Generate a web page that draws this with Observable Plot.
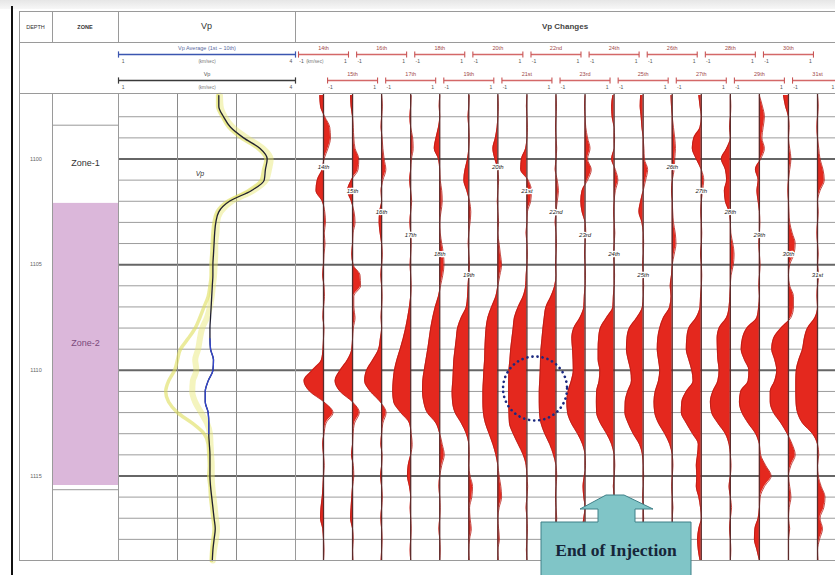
<!DOCTYPE html>
<html><head><meta charset="utf-8">
<script src="https://cdn.jsdelivr.net/npm/d3@7"></script>
<script src="https://cdn.jsdelivr.net/npm/@observablehq/plot@0.6"></script>
<style>
body{margin:0;background:#fff;font-family:"Liberation Sans",Arial,sans-serif;}
#wrap{position:relative;width:835px;height:575px;overflow:hidden;background:#fff;}
.abs{position:absolute;}
.hl{position:absolute;height:1px;background:#9a9a9a;}
.vl{position:absolute;width:1px;background:#9a9a9a;}
.ht{position:absolute;text-align:center;color:#333;}
svg{overflow:visible;}
</style></head><body><div id="wrap"></div>
<script>
// ---------- DATA ----------
const depth = [1097,1097.5,1098,1098.5,1099,1099.5,1100,1100.5,1101,1101.5,1102,1102.5,1103,1103.5,1104,1104.5,1105,1105.5,1106,1106.5,1107,1107.5,1108,1108.5,1109,1109.5,1110,1110.5,1111,1111.5,1112,1112.5,1113,1113.5,1114,1114.5,1115,1115.5,1116,1116.5,1117,1117.5,1118,1118.5,1119];
const vpAverage = [2.70,2.70,2.78,2.90,3.12,3.40,3.52,3.49,3.47,3.25,2.88,2.70,2.65,2.63,2.62,2.61,2.60,2.60,2.59,2.58,2.57,2.56,2.55,2.55,2.56,2.61,2.60,2.52,2.47,2.47,2.52,2.53,2.53,2.54,2.55,2.55,2.55,2.56,2.58,2.60,2.62,2.64,2.62,2.60,2.59];
const vpSurveyA = [2.72,2.73,2.80,2.94,3.18,3.45,3.58,3.55,3.50,3.28,2.92,2.73,2.67,2.66,2.64,2.64,2.63,2.62,2.60,2.58,2.55,2.50,2.42,2.38,2.35,2.30,2.32,2.26,2.25,2.30,2.40,2.50,2.55,2.56,2.57,2.58,2.58,2.59,2.61,2.63,2.65,2.67,2.65,2.62,2.60];
const vpSurveyB = [2.68,2.68,2.76,2.87,3.08,3.36,3.50,3.46,3.42,3.20,2.85,2.67,2.62,2.60,2.59,2.58,2.57,2.57,2.55,2.52,2.45,2.38,2.30,2.18,2.05,2.00,1.95,1.85,1.80,1.85,2.00,2.25,2.45,2.52,2.53,2.54,2.53,2.55,2.56,2.58,2.60,2.62,2.60,2.58,2.57];

const trackNames = ["14th","15th","16th","17th","18th","19th","20th","21st","22nd","23rd","24th","25th","26th","27th","28th","29th","30th","31st"];
const vc14 = [-0.15,-0.12,0.05,0.25,0.28,0.18,0.02,-0.05,-0.25,-0.3,-0.05,0.05,0.08,0.03,0.06,0.02,0,-0.03,0.02,0.04,0,-0.02,0.02,0,-0.02,-0.08,-0.45,-0.78,-0.55,0.02,0.38,0.1,0.02,-0.03,0,0.03,0,-0.02,-0.05,-0.1,-0.12,-0.03,0,0.02,0];
const vc15 = [-0.08,-0.06,0,0.03,0.05,0.1,0.25,0.22,-0.05,-0.2,-0.05,0.06,0.1,0.02,0,-0.03,0.02,0.3,0.32,0.05,0.05,0.1,0.03,0,-0.03,-0.2,-0.5,-0.7,-0.5,0,0.27,0.08,0.02,0,-0.04,0.03,0.05,0,-0.03,-0.06,-0.08,0,0.03,0,0.02];
const vc16 = [0,0.03,0,-0.02,0.02,0.05,0.1,0.17,0.05,-0.02,0,-0.08,-0.1,-0.06,0,0.03,0,-0.03,0,0.02,0,-0.02,0,-0.05,-0.12,-0.35,-0.6,-0.68,-0.45,-0.05,0.18,0.05,0,-0.03,0.02,0,-0.04,0,0.03,0,-0.03,0,0.02,0,-0.02];
const vc17 = [0.02,0,-0.03,0,0.08,0.1,0.03,0,-0.04,0,0.04,0,-0.03,0,0.02,0,-0.02,0,0.02,0,-0.05,-0.12,-0.2,-0.3,-0.42,-0.55,-0.65,-0.7,-0.72,-0.68,-0.4,-0.05,0.02,0.06,0,-0.1,-0.13,-0.05,0,-0.02,0,0.02,0,-0.02,0];
const vc18 = [0,-0.02,0,-0.05,-0.15,-0.22,-0.05,0,0.02,0.08,0.1,0.05,0,0.02,0.08,0.15,0.17,0.12,0.03,-0.05,-0.18,-0.28,-0.36,-0.42,-0.48,-0.55,-0.62,-0.68,-0.69,-0.64,-0.5,-0.15,0,0.1,0.18,0.08,0,-0.03,0,0.02,0,-0.03,0,0.02,0];
const vc19 = [0.02,0,-0.03,0,0.02,0,-0.05,-0.15,-0.2,-0.08,0.03,0.08,0.05,0,-0.02,0,0.03,0,-0.03,-0.05,-0.1,-0.3,-0.45,-0.5,-0.55,-0.6,-0.62,-0.64,-0.67,-0.65,-0.55,-0.3,-0.1,0,0.02,0,0.05,0.15,0.12,0.03,0.05,0.1,0.03,0,0.02];
const vc20 = [0,0.02,0,-0.03,-0.1,-0.2,-0.12,0,0.03,0,-0.02,0,0.03,0,0.05,0.1,0.15,0.08,0,-0.08,-0.25,-0.4,-0.47,-0.5,-0.52,-0.53,-0.56,-0.58,-0.6,-0.6,-0.58,-0.5,-0.35,-0.2,-0.08,0,0.05,0.12,0.15,0.05,0,0.03,0.06,0,0.02];
const vc21 = [0,-0.02,0,0.02,0,-0.05,-0.22,-0.25,0.05,0.18,0.15,0.02,0,-0.03,0,0.02,0,-0.03,-0.05,-0.15,-0.35,-0.5,-0.55,-0.6,-0.65,-0.68,-0.72,-0.73,-0.73,-0.73,-0.72,-0.7,-0.55,-0.35,-0.15,-0.03,0,0.03,0,-0.03,0,0.02,0,-0.02,0];
const vc22 = [0,0.02,0,-0.02,0,0.03,0,-0.03,0.05,0.1,0.05,0,-0.03,0,0.02,0,-0.02,0,-0.05,-0.2,-0.4,-0.47,-0.52,-0.56,-0.6,-0.62,-0.63,-0.65,-0.67,-0.67,-0.66,-0.6,-0.45,-0.25,-0.1,0,0.03,0,-0.02,0,0.03,0,-0.02,0,0];
const vc23 = [0,-0.02,0,0.03,0.1,0.2,0.1,0.25,0.1,-0.12,-0.17,-0.12,0,0.03,0,-0.02,0,0.02,0,-0.03,-0.05,-0.2,-0.45,-0.53,-0.5,-0.48,-0.47,-0.55,-0.68,-0.73,-0.7,-0.55,-0.3,-0.1,0,0.02,-0.03,-0.08,-0.05,0,-0.05,-0.1,-0.05,0,0];
const vc24 = [-0.05,-0.1,-0.08,0,0.02,0,-0.1,0.05,0.15,0.05,0,-0.02,0,0.03,0,-0.02,0,0.02,0,-0.03,-0.05,-0.3,-0.55,-0.62,-0.64,-0.64,-0.57,-0.6,-0.7,-0.71,-0.7,-0.55,-0.3,-0.1,0,0.03,0,-0.03,0,0.02,0,-0.02,0,0,0];
const vc25 = [-0.1,-0.12,-0.08,-0.05,0,0.03,0.05,0.18,0.1,0,-0.1,-0.17,-0.05,0,0.02,0,-0.02,0,0.02,0,-0.03,-0.25,-0.55,-0.65,-0.67,-0.6,-0.5,-0.47,-0.62,-0.72,-0.73,-0.6,-0.4,-0.15,-0.03,0,0.02,0,-0.02,0,0.02,0,0,-0.02,0];
const vc26 = [-0.05,-0.03,0,0.05,0.1,0.13,0.1,0.08,0,-0.03,0,0.02,0.05,0.12,0.15,0.08,0,-0.03,-0.08,-0.05,-0.1,-0.35,-0.5,-0.58,-0.6,-0.55,-0.5,-0.55,-0.68,-0.73,-0.7,-0.55,-0.3,-0.1,0,0.03,0,-0.02,0,0.03,0,0,0.02,0,0];
const vc27 = [-0.1,-0.05,0,-0.05,-0.3,-0.36,-0.2,0,0.1,0.05,0,-0.02,0,0.02,0,-0.03,0,0.02,0,-0.03,-0.05,-0.2,-0.5,-0.58,-0.6,-0.5,-0.38,-0.33,-0.6,-0.78,-0.8,-0.6,-0.35,-0.12,-0.15,-0.2,-0.18,-0.2,-0.1,-0.03,0,-0.1,-0.15,-0.12,-0.05];
const vc28 = [0,0.02,0,-0.03,0,-0.15,-0.36,-0.2,-0.15,-0.24,-0.2,-0.05,0,0.02,0.1,0.15,0.12,0.03,0,-0.02,-0.05,-0.15,-0.45,-0.53,-0.52,-0.5,-0.45,-0.5,-0.7,-0.8,-0.75,-0.5,-0.2,-0.05,0,0.03,0,-0.05,0,0.05,0,-0.03,0,0.02,0];
const vc29 = [0,0.12,0.2,0.15,0.1,0.2,0.05,-0.16,-0.05,-0.1,-0.05,0,0.02,0,-0.02,0,0.03,0,-0.02,0,-0.03,-0.1,-0.5,-0.68,-0.73,-0.6,-0.42,-0.45,-0.75,-0.8,-0.7,-0.45,-0.15,0,0.05,0.25,0.47,0.2,0.03,0,-0.05,-0.18,-0.2,-0.1,0];
const vc30 = [-0.2,-0.12,0,0.03,0,0.05,0.1,0.05,0,-0.02,0,0.02,0.05,0.15,0.27,0.22,0.05,0,0.05,0.2,0.2,0.1,-0.3,-0.6,-0.67,-0.55,-0.47,-0.55,-0.73,-0.73,-0.6,-0.3,-0.05,0.15,0.27,0.1,0,0.05,0.1,0.03,0,0.05,0,0,0];
const vc31 = [0,0.03,0,-0.02,0,0.05,0.1,0.22,0.27,0.1,0,0.03,0,-0.02,0,0.03,0,0.05,0,-0.02,0,-0.1,-0.4,-0.53,-0.6,-0.75,-0.85,-0.87,-0.87,-0.86,-0.8,-0.6,-0.2,0,0.05,0,0.03,0.15,0.3,0.25,0.1,0.2,0.08,0,0.02];
const trackValues = [vc14,vc15,vc16,vc17,vc18,vc19,vc20,vc21,vc22,vc23,vc24,vc25,vc26,vc27,vc28,vc29,vc30,vc31];

const gridDepths = [1098,1099,1101,1102,1103,1104,1106,1107,1108,1109,1111,1112,1113,1114,1116,1117,1118];
const majorDepths = [1100,1105,1110,1115];
const depthLabels = ["1100","1105","1110","1115"];
const zoneNames = ["Zone-1","Zone-2"];
const zoneTop = [1098.4,1102.1];
const zoneBase = [1102.1,1115.45];
const zoneFill = ["#ffffff","#dbb7da"];
const zoneLabelDepth = [1100.2,1108.7];
const trackLabelDepths = [1100.4,1101.5,1102.5,1103.6,1104.5,1105.5];
const vpRange = [1, 4];
const changeRange = [-1, 1];

// ---------- LAYOUT ----------
const wrap = document.getElementById("wrap");
function div(cls, css, html) { const e = document.createElement("div"); e.className = cls; e.style.cssText = css; if (html) e.innerHTML = html; wrap.appendChild(e); return e; }
function place(svg, left, top) { const d = div("abs", `left:${left}px;top:${top}px;`); d.appendChild(svg); }

div("abs", "left:0;top:0;width:835px;height:9px;background:linear-gradient(#e6e6e6,#f7f7f7);");
div("abs", "left:11px;top:6px;width:2px;height:569px;background:#111;");

const top0 = 93, H = 467, yDom = [1096.9, 1119];
const font = "Liberation Sans, Arial, sans-serif";
const baseOpts = (w) => ({width: w, height: H, marginTop: 0, marginBottom: 0, marginLeft: 0, marginRight: 0,
  y: {domain: yDom, reverse: true, axis: null}, style: {background: "transparent", fontFamily: font, overflow: "visible"}});
const gridMarks = () => [
  Plot.ruleY(gridDepths, {stroke: "#9c9c9c", strokeWidth: 1}),
  Plot.ruleY(majorDepths, {stroke: "#666", strokeWidth: 2})
];

// Depth column
place(Plot.plot({...baseOpts(33), x: {domain: [0, 1], axis: null},
  marks: [Plot.text(majorDepths, {x: 0.5, y: d => d, text: (d, i) => depthLabels[i], fontSize: 5.5, fill: "#666"})]}), 19, top0);

// Zone column
place(Plot.plot({...baseOpts(66), x: {domain: [0, 1], axis: null}, color: {type: "identity"},
  marks: [
    Plot.rect(zoneNames, {x1: 0, x2: 1, y1: (d, i) => zoneTop[i], y2: (d, i) => zoneBase[i], fill: (d, i) => zoneFill[i]}),
    Plot.ruleY([zoneTop[0], zoneBase[1] + 0.2], {stroke: "#999", strokeWidth: 1}),
    Plot.text(zoneNames, {x: 0.5, y: (d, i) => zoneLabelDepth[i], text: d => d, fontSize: 9, fill: (d, i) => i ? "#7a4a7a" : "#333"})
  ]}), 52, top0);

// Vp track
const vpRows = depth.map((d, j) => ({depth: d, avg: vpAverage[j], a: vpSurveyA[j], b: vpSurveyB[j]}));
place(Plot.plot({...baseOpts(177), x: {domain: vpRange, axis: null},
  marks: [
    ...gridMarks(),
    Plot.ruleX([2, 3], {stroke: "#8a8a8a", strokeWidth: 1}),
    Plot.line(vpRows, {x: "a", y: "depth", stroke: "#e6e66e", strokeWidth: 6, strokeOpacity: 0.45, curve: "monotone-y"}),
    Plot.line(vpRows, {x: "b", y: "depth", stroke: "#dede5a", strokeWidth: 3.5, strokeOpacity: 0.6, curve: "monotone-y"}),
    Plot.line(vpRows, {x: "avg", y: "depth", stroke: "#1f1f33", strokeWidth: 1.3, curve: "monotone-y"}),
    Plot.line(vpRows.filter(r => r.depth >= 1108.5 && r.depth <= 1113), {x: "avg", y: "depth", stroke: "#3347d0", strokeWidth: 1.3, curve: "monotone-y"}),
    Plot.text(["Vp"], {x: 2.38, y: 1100.7, text: d => d, fontSize: 7, fontStyle: "italic", fill: "#333"})
  ]}), 118, top0);

// Vp Changes tracks
const base = i => 1.12 + 1.1624 * i;
const changeRows = [];
trackValues.forEach((vals, i) => vals.forEach((v, j) => changeRows.push({track: trackNames[i], i, depth: depth[j], v})));
place(Plot.plot({...baseOpts(540), x: {domain: [0, 21.6], axis: null},
  marks: [
    ...gridMarks(),
    Plot.areaX(changeRows, {y: "depth", x1: d => base(d.i), x2: d => base(d.i) + d.v, z: "track", fill: "#e4281e", curve: "monotone-y"}),
    Plot.lineX(changeRows, {y: "depth", x: d => base(d.i) + d.v, z: "track", stroke: "#b51a14", strokeWidth: 0.8, curve: "monotone-y"}),
    Plot.ruleX(trackNames, {x: (d, i) => base(i), stroke: "#5b2b2b", strokeWidth: 1.3}),
    Plot.text(trackNames, {x: (d, i) => base(i), y: (d, i) => trackLabelDepths[i % 6], text: d => d, fontSize: 6, fontStyle: "italic", fill: "#222", stroke: "#fff", strokeWidth: 2.5, paintOrder: "stroke"}),
    Plot.dot([{i: 7.28, depth: 1110.86}], {x: d => base(d.i), y: "depth", r: 32, stroke: "#1c2a80", strokeWidth: 2.6, strokeDasharray: "0.1 5", strokeLinecap: "round", fill: "none"})
  ]}), 295, top0);

// Header scale rows (second header row, y 42..93)
const hOpts = (w) => ({width: w, height: 51, marginTop: 0, marginBottom: 0, marginLeft: 0, marginRight: 0,
  y: {domain: [-0.4615, 1.5], reverse: true, axis: null}, color: {type: "identity"}, style: {background: "transparent", fontFamily: font, overflow: "visible"}});
const vpScales = [{name: "Vp Average (1st ~ 10th)", row: 0, color: "#3b56b0", text: "#5a6aa0"}, {name: "Vp", row: 1, color: "#3a3a3a", text: "#555"}];
const vpEnds = vpScales.flatMap(s => vpRange.map(x => ({...s, x})));
place(Plot.plot({...hOpts(177), x: {domain: vpRange, axis: null},
  marks: [
    Plot.link(vpScales, {x1: vpRange[0], x2: vpRange[1], y1: "row", y2: "row", stroke: "color", strokeWidth: 1.4}),
    Plot.link(vpEnds, {x1: "x", x2: "x", y1: d => d.row - 0.12, y2: d => d.row + 0.12, stroke: "color", strokeWidth: 1.2}),
    Plot.text(vpScales, {x: 2.5, y: "row", dy: -6, text: "name", fontSize: 5.5, fill: "text"}),
    Plot.text(vpScales, {x: 2.5, y: "row", dy: 7, text: () => "(km/sec)", fontSize: 4.5, fill: "#777"}),
    Plot.text(vpEnds, {x: d => d.x === 1 ? 1.08 : 3.92, y: "row", dy: 7, text: d => String(d.x), fontSize: 5, fill: "#555"})
  ]}), 118, 42);

const trackScales = trackNames.map((name, i) => ({name, i, row: i % 2}));
const trackEnds = trackScales.flatMap(s => changeRange.map(v => ({...s, v})));
const xMax = 21.5;
place(Plot.plot({...hOpts(540), x: {domain: [0, 21.6], axis: null},
  marks: [
    Plot.link(trackScales, {x1: d => base(d.i) + changeRange[0], x2: d => base(d.i) + changeRange[1], y1: "row", y2: "row", stroke: "#d46868", strokeWidth: 1.3}),
    Plot.link(trackEnds, {x1: d => base(d.i) + d.v, x2: d => base(d.i) + d.v, y1: d => d.row - 0.12, y2: d => d.row + 0.12, stroke: "#c85555", strokeWidth: 1.1}),
    Plot.text(trackScales, {x: d => base(d.i), y: "row", dy: -6, text: "name", fontSize: 5.5, fill: "#a04848"}),
    Plot.text(trackEnds, {x: d => Math.min(base(d.i) + d.v * 0.88, xMax), y: "row", dy: 7, text: d => String(d.v), fontSize: 5, fill: "#555"}),
    Plot.text(trackScales.filter(d => d.i === 0), {x: d => base(d.i) - 0.35, y: "row", dy: 7, text: () => "(km/sec)", fontSize: 4.5, fill: "#777"})
  ]}), 295, 42);

// Header table lines
[11, 42, 93, 560].forEach(y => div("hl", `left:19px;top:${y}px;width:816px;`));
[[19, 11, 549], [52, 11, 31], [52, 93, 467], [118, 11, 31], [118, 93, 467], [295, 11, 31], [295, 93, 467]].forEach(([x, y, h]) => div("vl", `left:${x}px;top:${y}px;height:${h}px;`));
div("ht", "left:19px;top:24px;width:33px;font-size:5.5px;", "DEPTH");
div("ht", "left:52px;top:24px;width:66px;font-size:5.5px;font-weight:bold;", "ZONE");
div("ht", "left:118px;top:21px;width:177px;font-size:9px;", "Vp");
div("ht", "left:295px;top:22px;width:540px;font-size:8px;font-weight:bold;color:#444;", "Vp Changes");

// End of Injection annotation
const ns = "http://www.w3.org/2000/svg";
const ann = document.createElementNS(ns, "svg");
ann.setAttribute("width", "835"); ann.setAttribute("height", "575");
ann.style.cssText = "position:absolute;left:0;top:0;";
const poly = document.createElementNS(ns, "polygon");
poly.setAttribute("points", "541,522 598,522 598,509 580,509 606,495 624,495 653,509 635,509 635,522 691,522 691,585 541,585");
poly.setAttribute("fill", "#80c5c7"); poly.setAttribute("stroke", "#3f8088"); poly.setAttribute("stroke-width", "1");
ann.appendChild(poly);
const t = document.createElementNS(ns, "text");
t.setAttribute("x", "616"); t.setAttribute("y", "556"); t.setAttribute("text-anchor", "middle");
t.setAttribute("font-family", "Liberation Serif, Times New Roman, serif"); t.setAttribute("font-weight", "bold");
t.setAttribute("font-size", "17.5"); t.setAttribute("fill", "#16263a");
t.textContent = "End of Injection";
ann.appendChild(t);
wrap.appendChild(ann);
</script></body></html>
